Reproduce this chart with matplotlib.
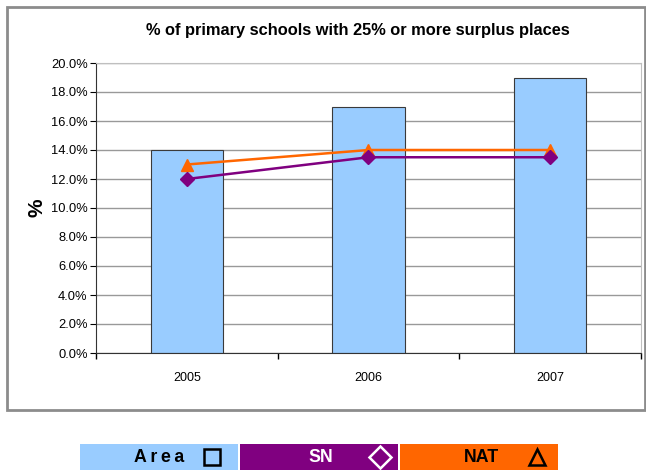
import matplotlib
matplotlib.use("Agg")
import matplotlib.pyplot as plt
from matplotlib.patches import Rectangle
from matplotlib.lines import Line2D
from matplotlib.ticker import FixedLocator, PercentFormatter

plt.rcParams["font.family"] = ["Liberation Sans", "DejaVu Sans"]

# Data
years = ["2005", "2006", "2007"]
area = [14.0, 17.0, 19.0]
sn = [12.0, 13.5, 13.5]
nat = [13.0, 14.0, 14.0]

W, H = 646, 471
fig = plt.figure(figsize=(W / 100, H / 100), dpi=100, facecolor="white")

# outer chart frame
fig.add_artist(Rectangle((7 / W, 1 - 410 / H), (645 - 7) / W, (410 - 7) / H,
                         transform=fig.transFigure, fill=False,
                         edgecolor="#8c8c8c", lw=2))

ax = fig.add_axes([96 / W, 1 - 353 / H, (641 - 96) / W, (353 - 63) / H])
x = list(range(len(years)))

ax.bar(x, area, width=0.4, color="#99ccff", edgecolor="#3a3a3a", lw=0.8, zorder=2)
ax.plot(x, nat, color="#ff6600", lw=1.8, marker="^", ms=8, zorder=3)
ax.plot(x, sn, color="#800080", lw=1.8, marker="D", ms=7, zorder=4)

ax.set_xlim(-0.5, 2.5)
ax.set_ylim(0, 20)
ax.yaxis.set_major_locator(FixedLocator([i * 2 for i in range(11)]))
ax.yaxis.set_major_formatter(PercentFormatter(decimals=1))
ax.grid(axis="y", color="#999999", lw=1, zorder=0)

ax.xaxis.set_major_locator(FixedLocator([-0.5, 0.5, 1.5, 2.5]))
ax.xaxis.set_major_formatter(plt.NullFormatter())
ax.xaxis.set_minor_locator(FixedLocator(x))
ax.set_xticklabels(years, minor=True)
ax.tick_params(axis="x", which="minor", length=0, pad=14, labelsize=9)
ax.tick_params(axis="x", which="major", length=4, direction="out", width=1)
ax.tick_params(axis="y", length=4, direction="out", labelsize=9.3, pad=2)

for s in ["top", "right"]:
    ax.spines[s].set_color("#bfbfbf")
ax.spines["left"].set_color("#333333")
ax.spines["bottom"].set_color("#333333")

ax.set_ylabel("%", fontsize=15, fontweight="bold", labelpad=3)
fig.text(358 / W, 1 - 31 / H, "% of primary schools with 25% or more surplus places",
         ha="center", va="center", fontsize=11.8, fontweight="bold")

# legend boxes: label, face, text colour, marker, text right edge, marker x
legend_items = [("Area", "#99ccff", "black", "s", 184, 212),
                ("SN", "#800080", "white", "D", 333, 380),
                ("NAT", "#ff6600", "black", "^", 499, 537)]
y0, y1 = 444, 470
for i, (label, face, fg, mk, tx, mx) in enumerate(legend_items):
    x0 = 80 + i * 160
    fig.add_artist(Rectangle((x0 / W, 1 - y1 / H), 158 / W, (y1 - y0) / H,
                             transform=fig.transFigure, facecolor=face,
                             edgecolor="none"))
    txt = "\u2009".join(label) if label == "Area" else label
    fig.text(tx / W, 1 - 457 / H, txt, ha="right", va="center",
             fontsize=12.8, fontweight="bold", color=fg)
    fig.add_artist(Line2D([mx / W], [1 - 457 / H], transform=fig.transFigure,
                          marker=mk, ms=12 if mk != "D" else 11, mfc="none",
                          mec=fg, mew=1.8, ls="none"))

fig.savefig("out.png", dpi=100, facecolor="white")
